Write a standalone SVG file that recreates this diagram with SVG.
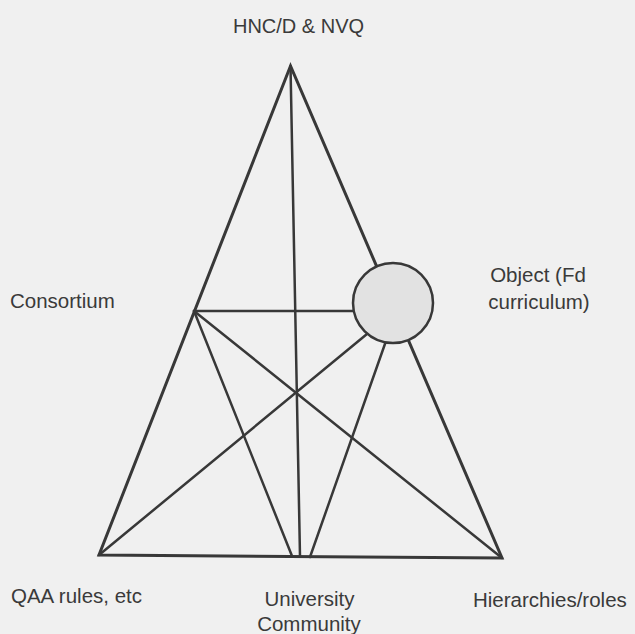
<svg xmlns="http://www.w3.org/2000/svg" width="635" height="634" viewBox="0 0 635 634">
  <style>
    .lbl { font-family: "Liberation Sans", Arial, sans-serif; font-size: 20.5px; fill: #3a3a3a; }
    .edge { stroke: #383838; stroke-width: 3; fill: none; stroke-linecap: round; stroke-linejoin: miter; }
    .link { stroke: #383838; stroke-width: 2.5; fill: none; stroke-linecap: round; }
  </style>
  <rect x="0" y="0" width="635" height="634" fill="#f0f0f0"/>

  <g id="connectors">
    <polygon class="edge" points="290.5,66 99,555 502,558"/>
    <line class="link" x1="290.5" y1="66" x2="300" y2="556"/>
    <line class="link" x1="194" y1="311" x2="355" y2="311"/>
    <line class="link" x1="194" y1="311" x2="292" y2="556"/>
    <line class="link" x1="194" y1="311" x2="502" y2="558"/>
    <line class="link" x1="99" y1="555" x2="367" y2="334"/>
    <line class="link" x1="386" y1="341" x2="310" y2="557"/>
  </g>

  <g id="node-object">
    <circle cx="393" cy="303" r="40" fill="#e2e2e2" stroke="#383838" stroke-width="2.5"/>
    <text class="lbl" x="538" y="282" text-anchor="middle">Object (Fd</text>
    <text class="lbl" x="539" y="309" text-anchor="middle">curriculum)</text>
  </g>

  <g id="node-apex">
    <text class="lbl" x="298.5" y="33" text-anchor="middle" style="font-size:20px">HNC/D &amp; NVQ</text>
  </g>

  <g id="node-consortium">
    <text class="lbl" x="10" y="308">Consortium</text>
  </g>

  <g id="node-qaa">
    <text class="lbl" x="11" y="603">QAA rules, etc</text>
  </g>

  <g id="node-university">
    <text class="lbl" x="309.5" y="606" text-anchor="middle">University</text>
    <text class="lbl" x="309" y="631" text-anchor="middle">Community</text>
  </g>

  <g id="node-hierarchies">
    <text class="lbl" x="473" y="607">Hierarchies/roles</text>
  </g>
</svg>
